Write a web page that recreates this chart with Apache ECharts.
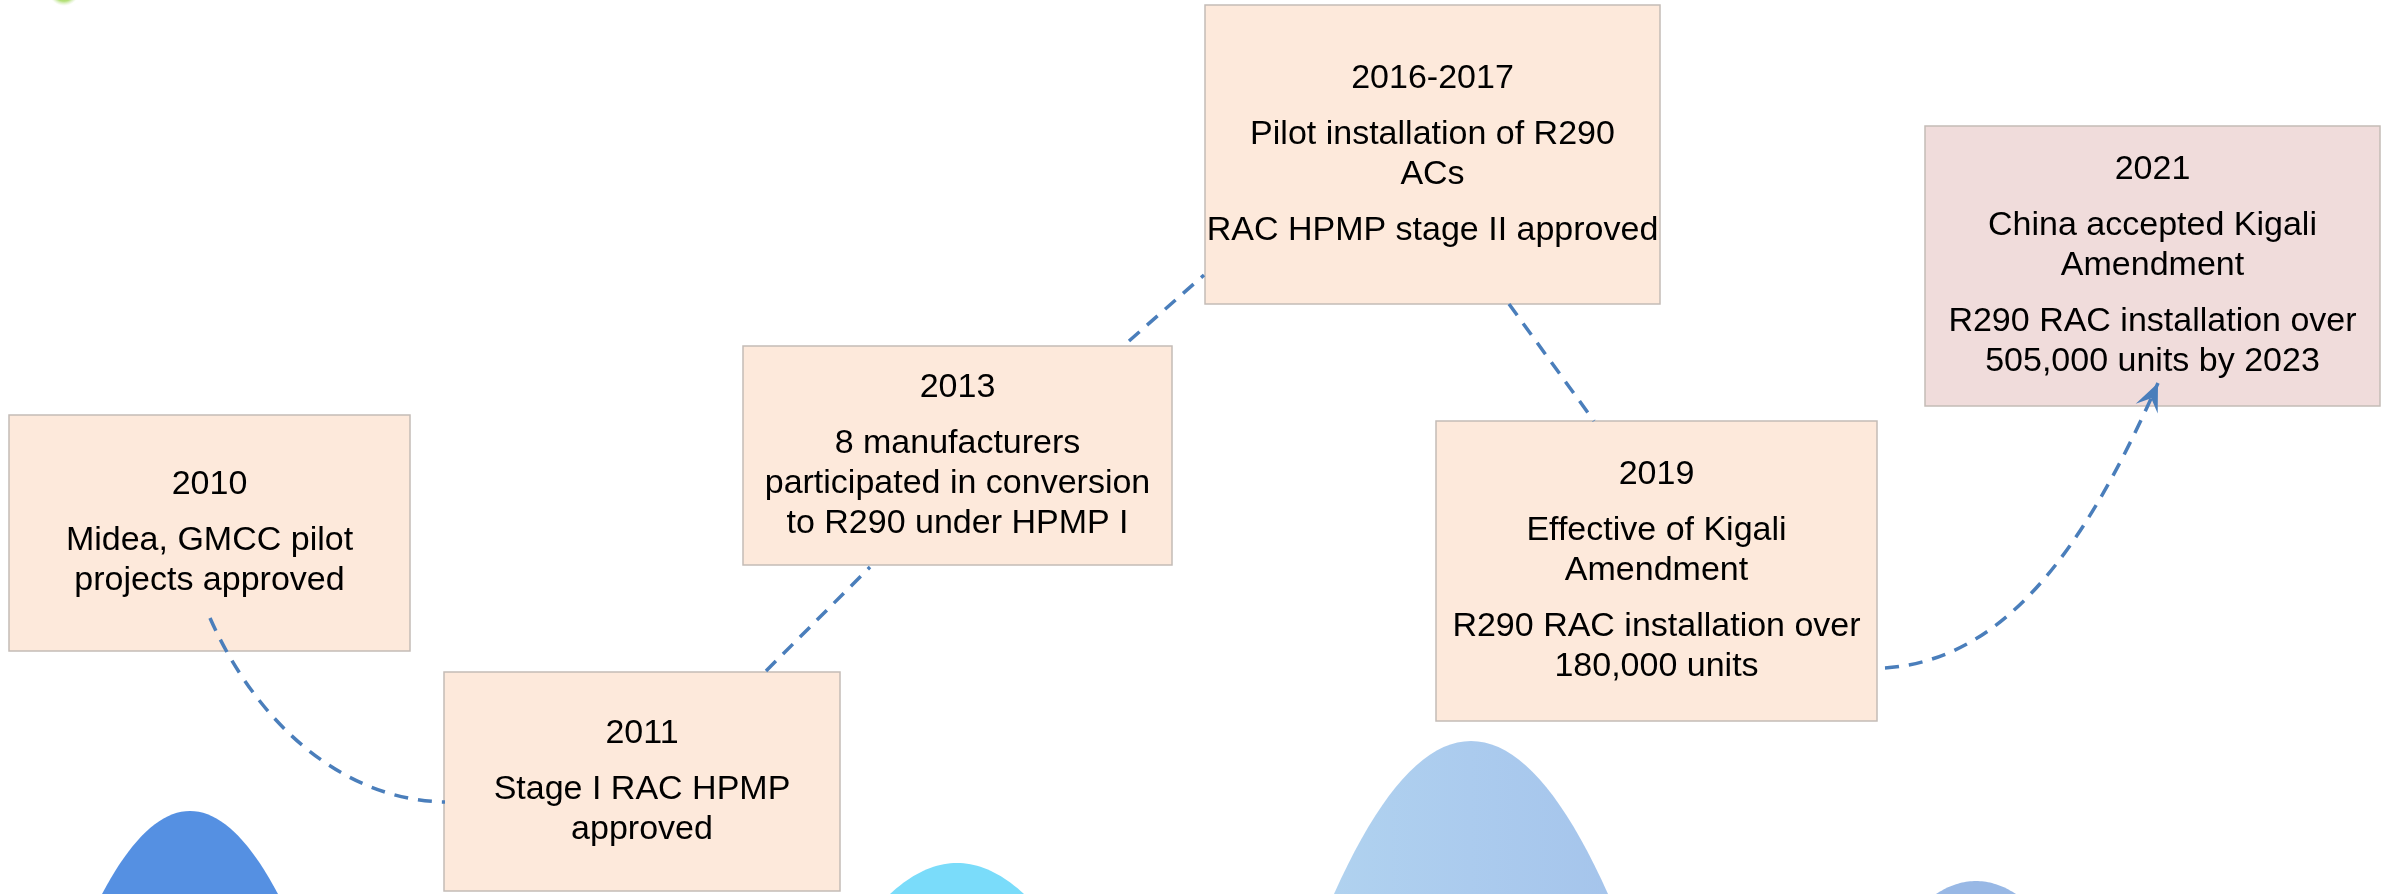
<!DOCTYPE html>
<html>
<head>
<meta charset="utf-8">
<title>R290 RAC timeline</title>
<script src="https://cdn.jsdelivr.net/npm/echarts@6/dist/echarts.min.js"></script>
<style>
  html, body { margin: 0; padding: 0; background: #fff; }
  #chart { width: 2382px; height: 894px; }
</style>
</head>
<body>
<div id="chart"></div>
<script>
// milestones (x / y are positions on the hidden layout axes, y counted from the top)
const years = ['2010', '2011', '2013', '2016-2017', '2019', '2021'];
const notes = [
  ['Midea, GMCC pilot\nprojects approved'],
  ['Stage I RAC HPMP\napproved'],
  ['8 manufacturers\nparticipated in conversion\nto R290 under HPMP I'],
  ['Pilot installation of R290\nACs', 'RAC HPMP stage II approved'],
  ['Effective of Kigali\nAmendment', 'R290 RAC installation over\n180,000 units'],
  ['China accepted Kigali\nAmendment', 'R290 RAC installation over\n505,000 units by 2023']
];
const milestoneX = [209.5, 642, 957.5, 1432.5, 1656.5, 2152.5];
const milestoneY = [533, 781.5, 455.5, 154.5, 571, 266];

// dashed links between milestones: start, end and bezier controls (null = straight)
const linkFrom = [[210, 618], [766, 671], [1129, 341], [1509, 304], [1885, 668]];
const linkTo = [[445, 802], [870, 567], [1204, 275], [1594, 421], [2158, 383]];
const linkCtrl = [[[255, 720], [340, 800]], null, null, null, [[2000, 660], [2080, 560]]];

// mountains at the bottom: peak x, peak top, half width at the bottom edge
const peakX = [190, 957, 1471, 1976];
const peakTop = [811, 863, 741, 881];
const peakSpread = [88, 67, 137, 40];

// ---- styling ----
const FONT = '"Liberation Sans", Arial, sans-serif';
const boxSize = [[401, 236], [396, 219], [429, 219], [455, 299], [441, 300], [455, 280]];
const boxFill = ['#FDE9DB', '#FDE9DB', '#FDE9DB', '#FDE9DB', '#FDE9DB', '#F0DCDB'];
const linkColor = '#4A7EBB';
const peakColors = [
  '#5590E2',
  '#7ADCFA',
  new echarts.graphic.LinearGradient(0, 0, 1, 0, [
    { offset: 0, color: '#B3D6F0' },
    { offset: 0.5, color: '#ABCBEE' },
    { offset: 1, color: '#A2C1EA' }
  ]),
  '#98B8E5'
];

const richStyles = {
  y: { fontFamily: FONT, fontSize: 34, lineHeight: 40, color: '#000' },
  t: { fontFamily: FONT, fontSize: 34, lineHeight: 40, color: '#000' },
  g: { fontFamily: FONT, fontSize: 4, lineHeight: 16 }
};

function boxText(i) {
  const parts = ['{y|' + years[i] + '}'];
  notes[i].forEach(p => {
    parts.push('{g| }');
    p.split('\n').forEach(line => parts.push('{t|' + line + '}'));
  });
  return parts.join('\n');
}

function renderPeak(params, api) {
  const i = params.dataIndex;
  const top = api.coord([api.value(0), api.value(1)]);
  const base = api.coord([api.value(0), 894]);
  const depth = base[1] - top[1];
  const spread = peakSpread[i];
  const pts = [];
  for (let s = -1.6; s <= 1.6001; s += 0.05) {
    const dx = s * spread;
    pts.push([top[0] + dx, top[1] + depth * s * s]);
  }
  return { type: 'polygon', shape: { points: pts }, style: { fill: peakColors[i] } };
}

function renderBox(params, api) {
  const i = params.dataIndex;
  const c = api.coord([api.value(0), api.value(1)]);
  const w = boxSize[i][0], h = boxSize[i][1];
  return {
    type: 'group',
    children: [
      {
        type: 'rect',
        shape: { x: c[0] - w / 2, y: c[1] - h / 2, width: w, height: h },
        style: { fill: boxFill[i], stroke: '#C4BCB7', lineWidth: 1.5 }
      },
      {
        type: 'text',
        x: c[0],
        y: c[1],
        style: { text: boxText(i), align: 'center', verticalAlign: 'middle', rich: richStyles, fontFamily: FONT, fontSize: 34 }
      }
    ]
  };
}

function renderLink(params, api) {
  const i = params.dataIndex;
  const p0 = api.coord(linkFrom[i]);
  const p3 = api.coord(linkTo[i]);
  const lineStyle = { stroke: linkColor, lineWidth: 3.5, lineDash: [14, 10], fill: null };
  const ctrl = linkCtrl[i];
  if (!ctrl) {
    return { type: 'line', shape: { x1: p0[0], y1: p0[1], x2: p3[0], y2: p3[1] }, style: lineStyle };
  }
  const c1 = api.coord(ctrl[0]);
  const c2 = api.coord(ctrl[1]);
  const children = [{
    type: 'bezierCurve',
    shape: { x1: p0[0], y1: p0[1], x2: p3[0], y2: p3[1], cpx1: c1[0], cpy1: c1[1], cpx2: c2[0], cpy2: c2[1] },
    style: lineStyle
  }];
  if (i === linkFrom.length - 1) {
    // arrow head on the last link
    let dx = p3[0] - c2[0], dy = p3[1] - c2[1];
    const len = Math.sqrt(dx * dx + dy * dy);
    dx /= len; dy /= len;
    const nx = -dy, ny = dx;
    const L = 28, W = 12;
    children.push({
      type: 'polygon',
      shape: {
        points: [
          [p3[0], p3[1]],
          [p3[0] - L * dx + W * nx, p3[1] - L * dy + W * ny],
          [p3[0] - 0.6 * L * dx, p3[1] - 0.6 * L * dy],
          [p3[0] - L * dx - W * nx, p3[1] - L * dy - W * ny]
        ]
      },
      style: { fill: linkColor }
    });
  }
  return { type: 'group', children: children };
}

function renderGlow(params, api) {
  const c = api.coord([api.value(0), api.value(1)]);
  return {
    type: 'circle',
    shape: { cx: c[0], cy: c[1], r: 16 },
    style: {
      fill: new echarts.graphic.RadialGradient(0.5, 0.5, 0.5, [
        { offset: 0, color: '#8CCB3A' },
        { offset: 0.7, color: '#B5E07A' },
        { offset: 1, color: 'rgba(220,240,200,0)' }
      ])
    }
  };
}

const chart = echarts.init(document.getElementById('chart'));
chart.setOption({
  animation: false,
  backgroundColor: '#fff',
  grid: { left: 0, right: 0, top: 0, bottom: 0 },
  xAxis: { type: 'value', min: 0, max: 2382, show: false },
  yAxis: { type: 'value', min: 0, max: 894, inverse: true, show: false },
  series: [
    {
      type: 'custom',
      name: 'glow',
      renderItem: renderGlow,
      clip: false,
      data: [[64, -10]]
    },
    {
      type: 'custom',
      name: 'peaks',
      renderItem: renderPeak,
      clip: false,
      data: peakX.map((x, i) => [x, peakTop[i]])
    },
    {
      type: 'custom',
      name: 'milestones',
      renderItem: renderBox,
      clip: false,
      z: 3,
      data: milestoneX.map((x, i) => [x, milestoneY[i]])
    },
    {
      type: 'custom',
      name: 'links',
      renderItem: renderLink,
      clip: false,
      z: 4,
      data: linkFrom.map((p, i) => [p[0], p[1]])
    }
  ]
});
window.addEventListener('resize', () => chart.resize());
</script>
</body>
</html>
